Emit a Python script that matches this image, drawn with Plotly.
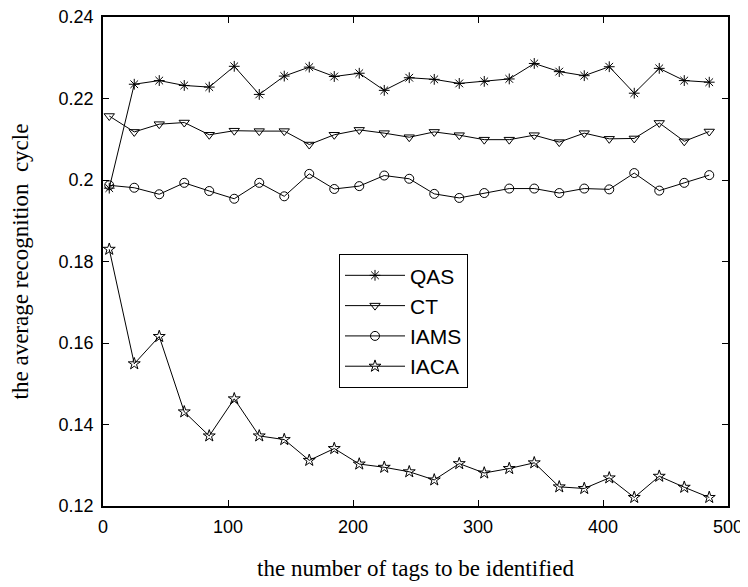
import plotly.graph_objects as go

x_tags = [5, 25, 45, 65, 85, 105, 125, 145, 165, 185, 205, 225, 245,
          265, 285, 305, 325, 345, 365, 385, 405, 425, 445, 465, 485]

qas = [0.198, 0.2235, 0.2244, 0.2232, 0.2228, 0.2279, 0.221, 0.2255, 0.2277, 0.2254,
       0.2262, 0.222, 0.2251, 0.2247, 0.2237, 0.2242, 0.2248, 0.2286, 0.2266, 0.2256,
       0.2278, 0.2213, 0.2274, 0.2244, 0.224]
ct = [0.2157, 0.2118, 0.2137, 0.2141, 0.2111, 0.2121, 0.212, 0.212, 0.2087, 0.2111,
      0.2123, 0.2115, 0.2105, 0.2118, 0.211, 0.2099, 0.2099, 0.211, 0.2093, 0.2115,
      0.2101, 0.2102, 0.214, 0.2095, 0.2119]
iams = [0.1987, 0.1981, 0.1965, 0.1993, 0.1973, 0.1954, 0.1993, 0.196, 0.2015, 0.1978,
        0.1985, 0.2011, 0.2003, 0.1966, 0.1956, 0.1968, 0.1979, 0.1979, 0.1968, 0.1979,
        0.1977, 0.2017, 0.1974, 0.1993, 0.2012]
iaca = [0.183, 0.1549, 0.1616, 0.1431, 0.1372, 0.1463, 0.1372, 0.1363, 0.1312, 0.1341,
        0.1303, 0.1295, 0.1284, 0.1264, 0.1304, 0.1281, 0.1292, 0.1306, 0.1247, 0.1243,
        0.1269, 0.1221, 0.1273, 0.1246, 0.1221]

series_names = ["QAS", "CT", "IAMS", "IACA"]
series_values = [qas, ct, iams, iaca]
series_symbols = ["asterisk-open", "triangle-down-open", "circle-open", "star-open"]

x_ticks = [0, 100, 200, 300, 400, 500]
y_ticks = [0.12, 0.14, 0.16, 0.18, 0.2, 0.22, 0.24]
y_tick_labels = ["0.12", "0.14", "0.16", "0.18", "0.2", "0.22", "0.24"]

fig = go.Figure()
for name, vals, sym in zip(series_names, series_values, series_symbols):
    fig.add_trace(go.Scatter(
        x=x_tags, y=vals, name=name, mode="lines+markers",
        line=dict(color="black", width=1),
        marker=dict(symbol=sym, size=9, color="black",
                    line=dict(color="black", width=1)),
    ))

axis_common = dict(
    showline=True, linecolor="black", linewidth=1.5, mirror="ticks",
    ticks="inside", ticklen=6, tickwidth=1, tickcolor="black",
    showgrid=False, zeroline=False, automargin=False,
    ticklabeloverflow="allow",
    tickfont=dict(family="Liberation Sans, Arial", size=18, color="black"),
)

fig.update_layout(
    width=740, height=579,
    margin=dict(l=95, r=20, t=9, b=81),
    plot_bgcolor="white", paper_bgcolor="white",
    showlegend=True,
    legend=dict(
        x=0.3776, y=0.515, xanchor="left", yanchor="top",
        bgcolor="white", bordercolor="black", borderwidth=1,
        font=dict(family="Liberation Sans, Arial", size=21, color="black"),
        itemwidth=60,
    ),
    xaxis=dict(range=[0, 500], tickvals=x_ticks, ticklabelstandoff=4,
               title=dict(text="the number of tags to be identified",
                          font=dict(family="Liberation Serif, Times New Roman", size=23, color="black"),
                          standoff=24),
               **axis_common),
    yaxis=dict(range=[0.12, 0.24], tickvals=y_ticks, ticktext=y_tick_labels,
               ticklabelstandoff=4,
               title=dict(text="the average recognition  cycle",
                          font=dict(family="Liberation Serif, Times New Roman", size=23, color="black"),
                          standoff=24),
               **axis_common),
)

fig.write_html("out.html")
